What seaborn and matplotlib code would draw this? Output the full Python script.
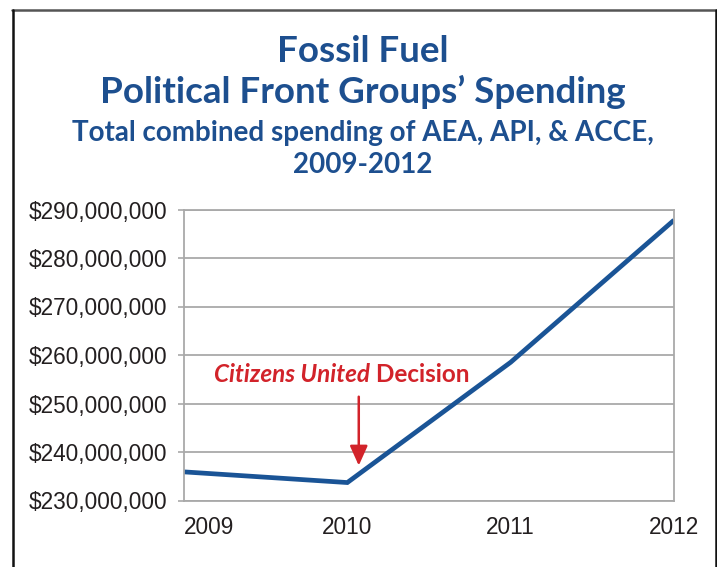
import matplotlib
matplotlib.use("Agg")
import matplotlib.pyplot as plt
import seaborn as sns
import pandas as pd
from matplotlib.lines import Line2D
from matplotlib.ticker import FuncFormatter

# ---- data ----
years = [2009, 2010, 2011, 2012]
spending = [235_900_000, 233_700_000, 258_500_000, 287_800_000]
y_ticks = [230_000_000, 240_000_000, 250_000_000, 260_000_000,
           270_000_000, 280_000_000, 290_000_000]
x_labels = ["2009", "2010", "2011", "2012"]

title_lines = ["Fossil Fuel", "Political Front Groups\u2019 Spending"]
subtitle_lines = ["Total combined spending of AEA, API, & ACCE,", "2009-2012"]
annot_italic = "Citizens United"
annot_normal = " Decision"

BLUE_T = "#1d4f8f"
BLUE_L = "#1a5496"
RED = "#d2232a"
GRID = "#a9a9a9"
TXT = "#231f20"

df = pd.DataFrame({"year": years, "spending": spending})

sns.set_theme(style="white")
plt.rcParams["font.family"] = ["Liberation Sans", "DejaVu Sans"]

fig = plt.figure(figsize=(7.17, 5.67), dpi=100)
W, H = 717, 567
ax = fig.add_axes([184 / W, 1 - 500.5 / H, (674 - 184) / W, (500.5 - 209.5) / H])

sns.lineplot(data=df, x="year", y="spending", ax=ax, color=BLUE_L,
             linewidth=3.4, solid_capstyle="butt", solid_joinstyle="miter")

ax.set_xlim(years[0], years[-1])
ax.set_ylim(y_ticks[0], y_ticks[-1])
ax.set_yticks(y_ticks)
ax.yaxis.set_major_formatter(FuncFormatter(lambda v, p: f"${v:,.0f}"))
ax.set_xticks(years)
ax.set_xticklabels(x_labels)
ax.set_xlabel("")
ax.set_ylabel("")

ax.grid(axis="y", color=GRID, linewidth=1.3)
ax.grid(axis="x", visible=False)
ax.set_axisbelow(True)
for s in ax.spines.values():
    s.set_color(GRID)
    s.set_linewidth(1.3)
    s.set_visible(True)

ax.tick_params(axis="y", which="major", left=True, length=4, width=1.2,
               color=GRID, pad=8, labelsize=16.3, labelcolor=TXT)
ax.tick_params(axis="x", which="major", bottom=False, length=0, pad=11,
               labelsize=16.3, labelcolor=TXT)
xl = ax.get_xticklabels()
xl[0].set_horizontalalignment("left")

# annotation arrow
ax.annotate("", xy=(2010.07, 237_200_000), xytext=(2010.07, 251_400_000),
            arrowprops=dict(arrowstyle="-|>,head_length=1.0,head_width=0.45",
                            color=RED, lw=1.8, shrinkA=0, shrinkB=0))

t1 = ax.text(2009.185, 254_400_000, annot_italic, color=RED, fontsize=17.5,
             family="Lato", style="italic", weight="bold", ha="left", va="baseline")
fig.canvas.draw()
r = fig.canvas.get_renderer()
bb = t1.get_window_extent(renderer=r)
x_end_data = ax.transData.inverted().transform((bb.x1, bb.y0))[0]
ax.text(x_end_data, 254_400_000, annot_normal, color=RED, fontsize=17.5,
        family="Lato", weight="bold", ha="left", va="baseline")

# titles
cx = 363 / W
fig.text(cx, 1 - 52 / H, title_lines[0], ha="center", va="center",
         fontsize=26.5, family="Lato", weight="bold", color=BLUE_T)
fig.text(cx, 1 - 92 / H, title_lines[1], ha="center", va="center",
         fontsize=26.5, family="Lato", weight="bold", color=BLUE_T)
fig.text(cx, 1 - 133 / H, subtitle_lines[0], ha="center", va="center",
         fontsize=20, family="Lato", weight="bold", color=BLUE_T)
fig.text(cx, 1 - 165 / H, subtitle_lines[1], ha="center", va="center",
         fontsize=20, family="Lato", weight="bold", color=BLUE_T)

# outer frame
fig.add_artist(Line2D([12 / W, 716 / W], [1 - 9.5 / H, 1 - 9.5 / H],
                      transform=fig.transFigure, color="#555555", lw=1.8))
fig.add_artist(Line2D([12.5 / W, 12.5 / W], [0, 1 - 9.5 / H],
                      transform=fig.transFigure, color="#111111", lw=1.8))
fig.add_artist(Line2D([715.5 / W, 715.5 / W], [0, 1 - 9.5 / H],
                      transform=fig.transFigure, color="#111111", lw=1.8))

fig.savefig("out.png", dpi=100)
